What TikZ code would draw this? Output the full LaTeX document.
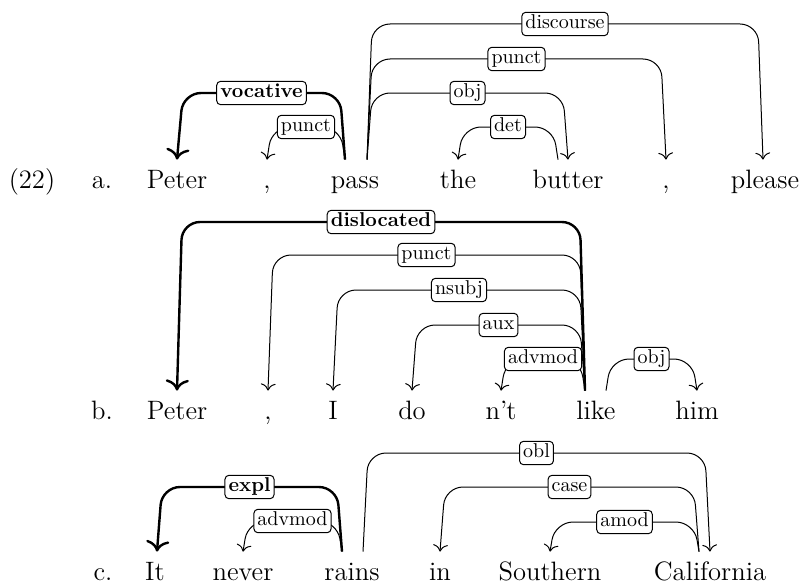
\documentclass[tikz,border=0pt]{standalone}
\usepackage{tikz}
\usetikzlibrary{arrows.meta}

\begin{document}
\begin{tikzpicture}[x=0.5pt, y=-0.5pt,
    word/.style={anchor=base, inner xsep=0pt, inner ysep=4.5pt, text height=9.5pt, text depth=2.7pt, font=\fontsize{13.3}{15}\selectfont},
    rel/.style={draw, fill=white, rounded corners=2pt, line width=0.5pt, inner xsep=1.8pt, inner ysep=1.5pt, text height=6.8pt, text depth=1.9pt, font=\fontsize{10}{12}\selectfont},
    arc/.style={-{To[scale=1.3]}, line width=0.5pt, rounded corners=9pt},
    heavy/.style={line width=1.2pt}]
      \useasboundingbox (0,0) rectangle (801,583);
      % sentence a
      \node[word] (num) at (32,188) {(22)};
      \node[word] (a0) at (102,188) {a.};
      \node[word] (a1) at (177,188) {Peter};
      \node[word] (a2) at (267,188) {,};
      \node[word] (a3) at (355,188) {pass};
      \node[word] (a4) at (458,188) {the};
      \node[word] (a5) at (568,188) {butter};
      \node[word] (a6) at (666,188) {,};
      \node[word] (a7) at (765,188) {please};
      \draw[arc, heavy] ([xshift=-5pt]a3.north) -- (340,93) -- node[rel] {\textbf{vocative}} (183,93) -- (a1.north);
      \draw[arc] ([xshift=-5pt]a3.north) -- (340,127) -- node[rel] {punct} (272,127) -- (a2.north);
      \draw[arc] ([xshift=6pt]a3.north) -- (372,24) -- node[rel] {discourse} (758,24) -- ([xshift=-1pt]a7.north);
      \draw[arc] ([xshift=6pt]a3.north) -- (372,59) -- node[rel] {punct} (661,59) -- (a6.north);
      \draw[arc] ([xshift=6pt]a3.north) -- (372,93) -- node[rel] {obj} (563,93) -- (a5.north);
      \draw[arc] ([xshift=-5pt]a5.north) -- (553,127) -- node[rel] {det} (463,127) -- (a4.north);
      % sentence b
      \node[word] (b0) at (102,419) {b.};
      \node[word] (b1) at (177,419) {Peter};
      \node[word] (b2) at (268,419) {,};
      \node[word] (b3) at (333,419) {I};
      \node[word] (b4) at (412,419) {do};
      \node[word] (b5) at (501,419) {n'\kern-0.5pt t};
      \node[word] (b6) at (596,419) {like};
      \node[word] (b7) at (697,419) {him};
      \draw[arc, heavy] ([xshift=-5.5pt]b6.north) -- (580,222) -- node[rel] {\textbf{dislocated}} (182,222) -- (b1.north);
      \draw[arc] ([xshift=-5.5pt]b6.north) -- (580,255) -- node[rel] {punct} (273,255) -- (b2.north);
      \draw[arc] ([xshift=-5.5pt]b6.north) -- (580,290) -- node[rel] {nsubj} (338,290) -- (b3.north);
      \draw[arc] ([xshift=-5.5pt]b6.north) -- (580,325) -- node[rel] {aux} (417,325) -- (b4.north);
      \draw[arc] ([xshift=-5.5pt]b6.north) -- (580,359) -- node[rel] {advmod} (506,359) -- (b5.north);
      \draw[arc] ([xshift=5pt]b6.north) -- (611,359) -- node[rel] {obj} (692,359) -- (b7.north);
      % sentence c
      \node[word] (c0) at (103,580) {c.};
      \node[word] (c1) at (155,580) {It};
      \node[word] (c2) at (243,580) {never};
      \node[word] (c3) at (352,580) {rains};
      \node[word] (c4) at (440,580) {in};
      \node[word] (c5) at (550,580) {Southern};
      \node[word] (c6) at (710,580) {California};
      \draw[arc, heavy] ([xshift=-5pt]c3.north) -- (337,487) -- node[rel] {\textbf{expl}} (162,487) -- ([xshift=1pt]c1.north);
      \draw[arc] ([xshift=-5pt]c3.north) -- (337,521) -- node[rel] {advmod} (248,521) -- (c2.north);
      \draw[arc] ([xshift=5.5pt]c3.north) -- (368,453) -- node[rel] {obl} (705,453) -- (c6.north);
      \draw[arc] ([xshift=-5.5pt]c6.north) -- (694,487) -- node[rel] {case} (445,487) -- (c4.north);
      \draw[arc] ([xshift=-5.5pt]c6.north) -- (694,522) -- node[rel] {amod} (555,522) -- (c5.north);
    \end{tikzpicture}
\end{document}
